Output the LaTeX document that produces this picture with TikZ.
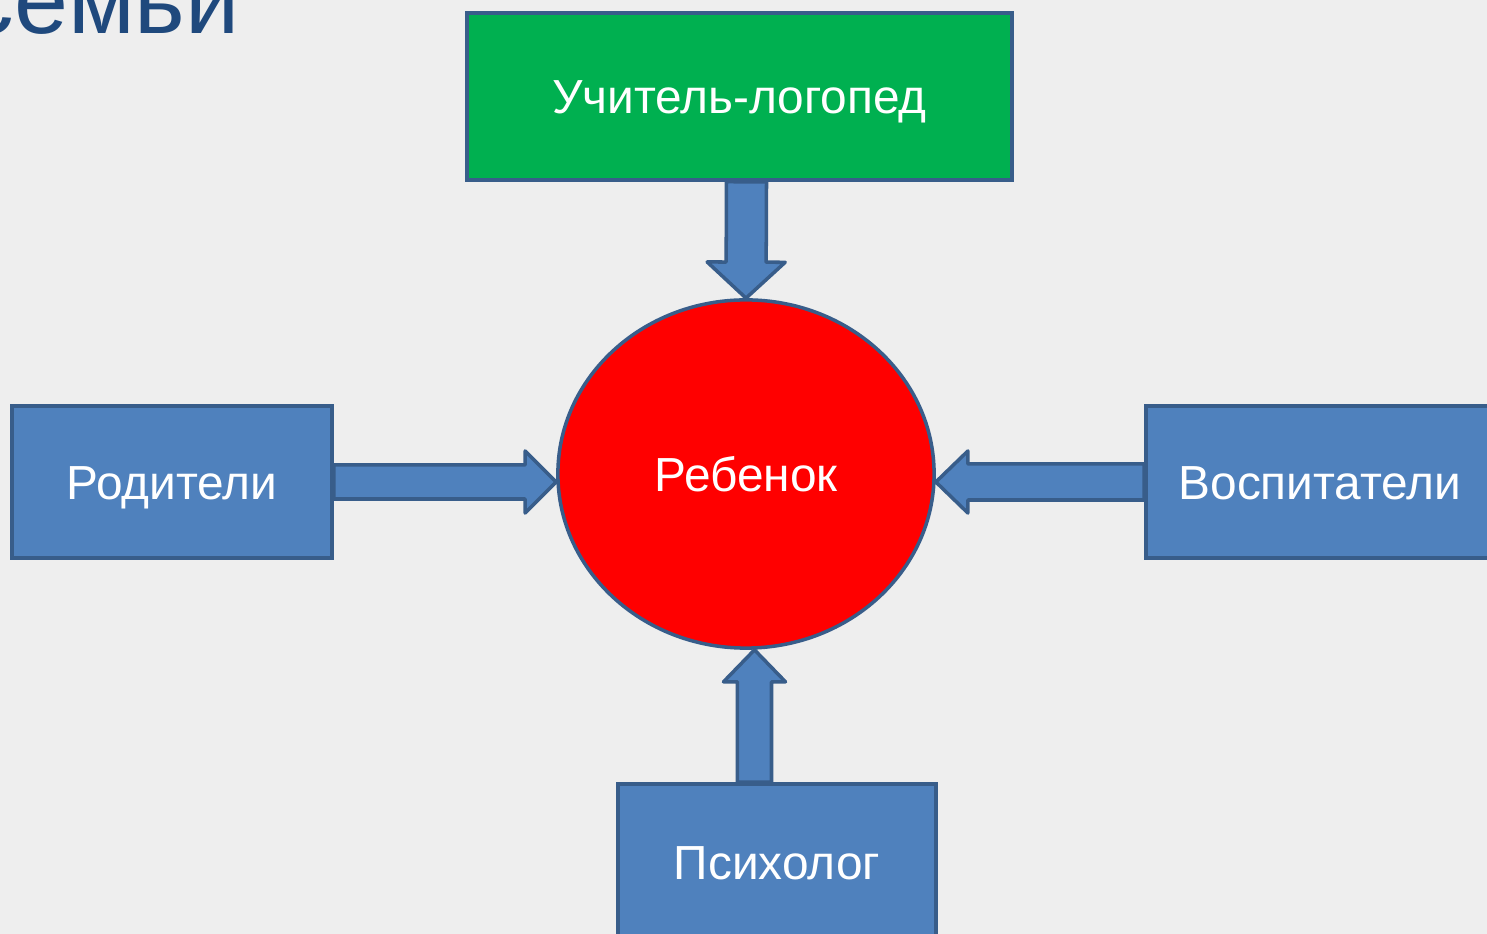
\documentclass[tikz,border=0pt]{standalone}
\usepackage{fontspec}
\setmainfont{Liberation Sans}
\usepackage{xcolor}
\usetikzlibrary{shapes.geometric, calc}
\definecolor{boxblue}{RGB}{79,129,189}
\definecolor{edgeblue}{RGB}{56,93,138}
\definecolor{boxgreen}{RGB}{0,176,80}
\definecolor{titleblue}{RGB}{31,73,125}
\definecolor{paper}{RGB}{238,238,238}
\tikzstyle{member} = [rectangle, fill=boxblue, draw=edgeblue, line width=1pt, text=white, font=\fontsize{13.6}{16}\selectfont, inner sep=0pt, text height=9.7pt, text depth=0pt]
\tikzstyle{speech} = [member, fill=boxgreen]
\tikzstyle{kid} = [ellipse, fill=red, draw=edgeblue, line width=1pt, text=white, font=\fontsize{13.6}{16}\selectfont, inner sep=0pt, text height=9.7pt, text depth=0pt]
\tikzstyle{arrowbody} = [fill=boxblue, draw=edgeblue, line width=1pt, line join=round]
% #1 from, #2 to, #3 half shaft, #4 half head, #5 head length
\newcommand{\blockarrow}[5]{%
  \coordinate (bah) at ($(#2)!#5!(#1)$);
  \filldraw[arrowbody] ($(#1)!#3!90:(#2)$) -- ($(bah)!#3!-90:(#1)$) -- ($(bah)!#4!-90:(#1)$) -- (#2)
    -- ($(bah)!#4!90:(#1)$) -- ($(bah)!#3!90:(#1)$) -- ($(#1)!#3!-90:(#2)$) -- cycle;
}

\begin{document}
\begin{tikzpicture}[x=0.01cm, y=-0.01cm]

   \fill[paper] (0,0) rectangle (1487,934);
   \useasboundingbox (0,0) rectangle (1487,934);

   \node (title) [anchor=base west, inner sep=0pt, text=titleblue, font=\fontsize{27.6}{33}\selectfont] at (-35,34) {семьи};

   \node (child) [kid, minimum width=3.76cm, minimum height=3.48cm] at (746,474) {Ребенок};
   \node (teacher) [speech, minimum width=5.45cm, minimum height=1.67cm] at (739.5,96.5) {Учитель-логопед};
   \node (parents) [member, minimum width=3.2cm, minimum height=1.52cm] at (172,482) {Родители};
   \node (carers) [member, minimum width=3.48cm, minimum height=1.52cm] at (1320,482) {Воспитатели};
   \node (psych) [member, minimum width=3.18cm, minimum height=1.56cm] at (777,862) {Психолог};

   \coordinate (t0) at ([xshift=0.07cm]teacher.south);
   \coordinate (l1) at (child.west |- parents.east);
   \coordinate (r1) at (child.east |- carers.west);
   \coordinate (b0) at ([xshift=-0.225cm]psych.north);
   \coordinate (b1) at (b0 |- child.south);

   \blockarrow{t0}{child.north}{0.2cm}{0.39cm}{0.36cm}
   \blockarrow{parents.east}{l1}{0.17cm}{0.31cm}{0.31cm}
   \blockarrow{carers.west}{r1}{0.18cm}{0.31cm}{0.32cm}
   \blockarrow{b0}{b1}{0.17cm}{0.31cm}{0.32cm}
\end{tikzpicture}
\end{document}
